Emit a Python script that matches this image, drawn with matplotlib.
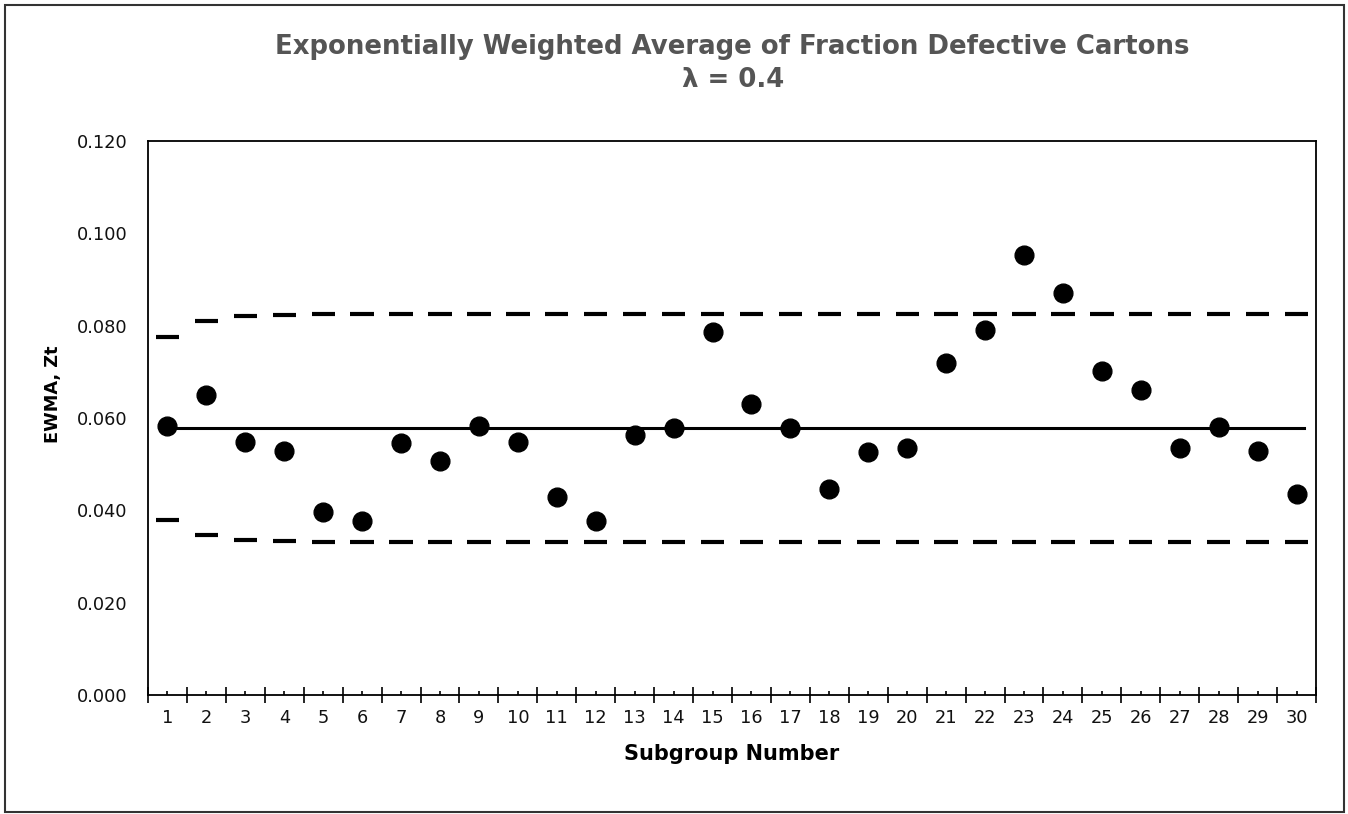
import matplotlib
matplotlib.use("Agg")
import matplotlib.pyplot as plt
from matplotlib.patches import Rectangle
import numpy as np

subgroups = list(range(1, 31))
ewma = [0.0583, 0.0650, 0.0549, 0.0529, 0.0396, 0.0377, 0.0545, 0.0506, 0.0583, 0.0549,
        0.0428, 0.0376, 0.0564, 0.0578, 0.0786, 0.0630, 0.0578, 0.0446, 0.0526, 0.0536,
        0.0720, 0.0791, 0.0953, 0.0871, 0.0702, 0.0660, 0.0534, 0.0580, 0.0528, 0.0435]
ucl = [0.0776, 0.0810, 0.0821, 0.0824] + [0.0825] * 26
lcl = [0.0380, 0.0347, 0.0336, 0.0334] + [0.0331] * 26
center = 0.0578
yticks = [0.000, 0.020, 0.040, 0.060, 0.080, 0.100, 0.120]

plt.rcParams['font.family'] = ['DejaVu Sans']

fig = plt.figure(figsize=(13.48, 8.14), dpi=100)
ax = fig.add_axes([148/1348, 1 - 695/814, (1316-148)/1348, (695-141)/814])

x = np.array(subgroups)
ax.hlines(ucl, x - 0.3, x + 0.3, colors='black', linewidth=3.0)
ax.hlines(lcl, x - 0.3, x + 0.3, colors='black', linewidth=3.0)
ax.plot([x[0], x[-1] + 0.2], [center, center], color='black', linewidth=2.2)
ax.plot(x, ewma, 'o', color='black', markersize=13.5, linestyle='none')

ax.set_xlim(0.5, 30.5)
ax.set_ylim(0, 0.12)
ax.set_yticks(yticks)
ax.set_yticklabels([f"{v:.3f}" for v in yticks], fontsize=12.8, color='#111111')
ax.tick_params(axis='y', length=0, pad=15)

ax.set_xticks(x)
ax.set_xticklabels([str(i) for i in subgroups], fontsize=12.8, color='#111111')
ax.set_xticks(np.arange(0.5, 31, 1), minor=True)
ax.tick_params(axis='x', which='major', direction='in', length=3, width=1.2, pad=10)
ax.tick_params(axis='x', which='minor', direction='inout', length=11, width=1.2)

for s in ax.spines.values():
    s.set_linewidth(1.3)
    s.set_color('black')

ax.set_xlabel("Subgroup Number", fontsize=15, fontweight='bold', labelpad=12)
ax.set_ylabel("EWMA, Zt", fontsize=12.8, fontweight='bold')
ax.yaxis.set_label_coords(-0.074, (695 - 394) / (695 - 141))

fig.text(0.5435, 1 - 47/814, "Exponentially Weighted Average of Fraction Defective Cartons",
         ha='center', va='center', fontsize=18.7, fontweight='bold', color='#555555')
fig.text(0.5435, 1 - 80/814, "λ = 0.4", ha='center', va='center', fontsize=18.7,
         fontweight='bold', color='#555555')

fig.patches.append(Rectangle((5/1348, 2/814), 1339/1348, 807/814, transform=fig.transFigure,
                             fill=False, edgecolor='#333333', linewidth=1.5))

fig.savefig("out.png", dpi=100)
